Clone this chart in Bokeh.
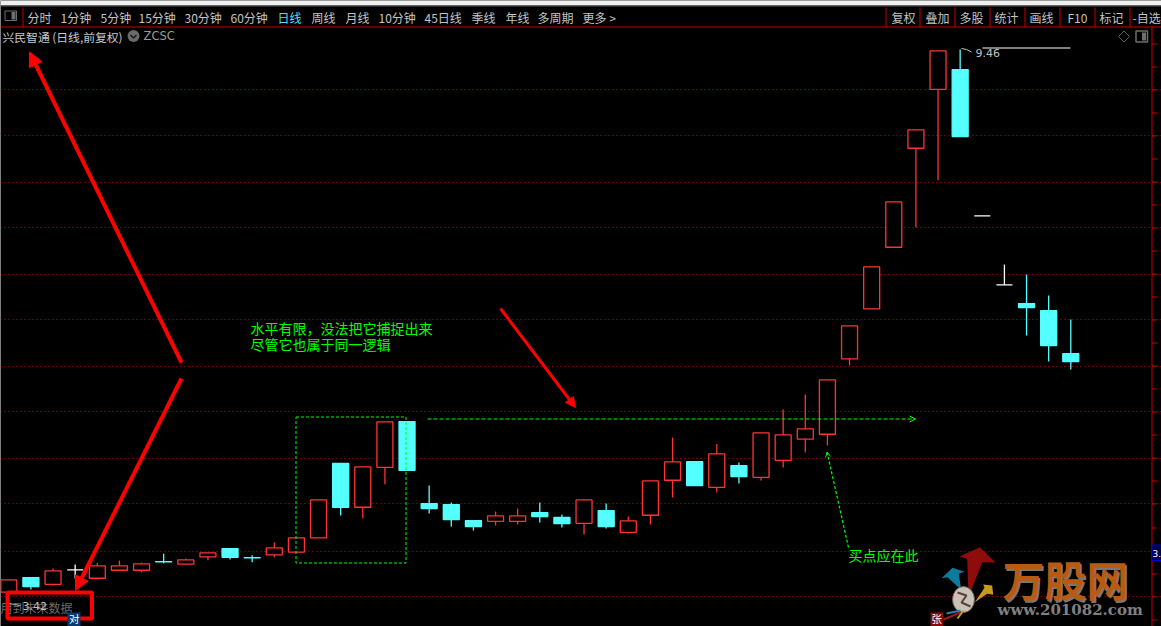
from bokeh.core.properties import value
from bokeh.embed import file_html
from bokeh.models import Arrow, ColumnDataSource, FixedTicker, Grid, NormalHead, OpenHead, Range1d
from bokeh.plotting import figure
from bokeh.resources import INLINE

# ---- candle data (prices) ----
opens = [3.43, 3.593, 3.518, 3.678, 3.585, 3.674, 3.674, 3.770, 3.741, 3.823, 3.915, 3.815, 3.845, 3.876, 4.034, 4.86, 4.374, 4.818, 5.326, 4.415, 4.404, 4.226, 4.218, 4.218, 4.315, 4.26, 4.196, 4.337, 4.096, 4.285, 4.674, 4.882, 4.596, 4.837, 4.707, 4.896, 5.13, 5.185, 6.023, 6.578, 7.263, 8.363, 9.018, 9.237, 7.612, 6.845, 6.637, 6.56, 6.082]
closes = [3.567, 3.493, 3.667, 3.678, 3.723, 3.723, 3.745, 3.767, 3.79, 3.867, 3.818, 3.812, 3.923, 4.034, 4.456, 4.374, 4.823, 5.323, 4.785, 4.36, 4.237, 4.16, 4.278, 4.278, 4.271, 4.193, 4.456, 4.16, 4.223, 4.667, 4.878, 4.615, 4.967, 4.715, 5.201, 5.178, 5.245, 5.79, 6.39, 7.045, 7.767, 8.567, 9.445, 8.493, 7.612, 6.845, 6.593, 6.171, 5.993]
highs = [3.567, 3.593, 3.693, 3.737, 3.756, 3.782, 3.76, 3.856, 3.804, 3.867, 3.915, 3.841, 3.982, 4.034, 4.456, 4.86, 4.823, 5.323, 5.326, 4.615, 4.426, 4.226, 4.326, 4.36, 4.426, 4.293, 4.456, 4.415, 4.271, 4.667, 5.148, 4.882, 5.078, 4.871, 5.201, 5.46, 5.626, 5.79, 6.39, 7.045, 7.767, 8.567, 9.445, 9.46, 7.612, 7.071, 6.96, 6.726, 6.46]
lows = [3.426, 3.46, 3.504, 3.582, 3.571, 3.671, 3.652, 3.752, 3.737, 3.785, 3.793, 3.763, 3.818, 3.876, 4.034, 4.282, 4.252, 4.63, 4.785, 4.304, 4.16, 4.115, 4.171, 4.182, 4.204, 4.148, 4.071, 4.137, 4.082, 4.182, 4.482, 4.615, 4.537, 4.637, 4.671, 4.815, 4.982, 5.06, 5.952, 6.578, 7.263, 7.485, 8.007, 8.493, 7.612, 6.845, 6.282, 5.993, 5.904]
grid_prices = [9.0105, 8.4994, 7.9882, 7.4771, 6.9659, 6.4548, 5.9436, 5.4325, 4.9213, 4.4102, 3.8879, 3.3768]
tick_prices = [9.5217, 9.2661, 9.0105, 8.755, 8.4994, 8.2438, 7.9882, 7.7327, 7.4771, 7.2215, 6.9659, 6.7104, 6.4548, 6.1992, 5.9436, 5.688, 5.4325, 5.1769, 4.9213, 4.6658, 4.4102, 4.1435, 3.8879, 3.6324, 3.3768, 3.1212]

# ---- texts ----
period_labels = ["分时", "1分钟", "5分钟", "15分钟", "30分钟", "60分钟", "日线", "周线", "月线", "10分钟", "45日线", "季线", "年线", "多周期", "更多 >"]
tool_labels = ["复权", "叠加", "多股", "统计", "画线", "F10", "标记", "-自选"]
note_lines = ["水平有限，没法把它捕捉出来", "尽管它也属于同一逻辑"]
buy_note = "买点应在此"

# layout in window pixels
period_x = [27, 60, 100, 138, 184, 230, 277, 311, 345, 378, 424, 471, 505, 537, 582]
tool_x = [891, 925, 959, 994, 1029, 1067, 1099, 1132]
sep_x = [22.5, 885.5, 919.5, 954.5, 989.5, 1024.5, 1059.5, 1094.5, 1129.5]

CJK = value("Noto Sans CJK SC")
RED = "#ff3333"
CYAN = "#54ffff"
DARKRED = "#c80000"
GREEN = "#00ff00"
ARROW = "#ff0000"
GREY = "#c4c4c4"

idx = list(range(len(opens)))
colors = [RED if c > o else (CYAN if c < o else "#ffffff") for o, c in zip(opens, closes)]
fills = ["#000000" if c > o else col for o, c, col in zip(opens, closes, colors)]
src = ColumnDataSource(dict(x=idx, o=opens, c=closes, h=highs, l=lows, col=colors, fill=fills))

p = figure(width=1161, height=626, output_backend="svg", toolbar_location=None,
           x_range=Range1d(-0.375, 52.10), y_range=Range1d(3.049, 10.005),
           x_axis_location=None, y_axis_location=None, min_border=0,
           background_fill_color="#000000", border_fill_color="#000000", outline_line_color=None)
p.grid.visible = False
p.extra_x_ranges = {"px": Range1d(0, 1161)}
p.extra_y_ranges = {"px": Range1d(626, 0)}
PX = dict(x_range_name="px", y_range_name="px")


def txt(x, y, s, color=GREY, size="12px", font=CJK, **kw):
    p.text([x], [y], text=[s], text_color=color, text_font_size=size, text_font=font,
           text_baseline="middle", **PX, **kw)


p.add_layout(Grid(dimension=1, ticker=FixedTicker(ticks=grid_prices), grid_line_color="#d80000",
                  grid_line_dash="1 3", grid_line_width=1))

# window strip above the chart
p.quad(left=[0], right=[1161], top=[0], bottom=[5], fill_color="#f0f0f0", line_color=None, **PX)
p.quad(left=[0], right=[1161], top=[5], bottom=[6], fill_color="#555555", line_color=None, **PX)

# candles
p.segment("x", "h", "x", "l", source=src, line_color="col", line_width=1.3)
p.vbar("x", 16 / 22.125, "o", "c", source=src, fill_color="fill", line_color="col", line_width=1.3)
# value-axis rule and ticks
p.segment([1151.5] * len(tick_prices), tick_prices, [1156.5] * len(tick_prices), tick_prices,
          x_range_name="px", line_color=DARKRED, line_width=1)
p.segment([1151.5], [626], [1151.5], [26.5], line_color=DARKRED, line_width=1, **PX)

# tool bar
p.segment([0], [26.5], [1161], [26.5], line_color=DARKRED, line_width=1, **PX)
p.segment(sep_x, [7] * len(sep_x), sep_x, [26.5] * len(sep_x), line_color=DARKRED, line_width=1, **PX)
p.quad(left=[4.5], right=[16], top=[10.5], bottom=[20], fill_color="#000000", line_color="#6e6e6e", line_width=1, **PX)
p.quad(left=[11], right=[15], top=[11.5], bottom=[19], fill_color="#6e6e6e", line_color=None, **PX)
for s, x in zip(period_labels, period_x):
    txt(x, 16.5, s, color="#55ddff" if s == "日线" else GREY)
for s, x in zip(tool_labels, tool_x):
    txt(x, 16.5, s)

# title row
txt(2, 35.5, "兴民智通 (日线,前复权)", size="11.8px", color="#c8c8c8")
p.circle([133], [35.5], radius=6, radius_units="screen", fill_color="#6a6a6a", line_color=None, **PX)
p.line([130, 133, 136], [34.5, 37.5, 34.5], line_color="#1a1a1a", line_width=1.5, **PX)
txt(143, 35.5, "ZCSC", color="#9a9a9a", size="11.5px", font=value("DejaVu Sans"))
p.line([1118, 1123.5, 1129, 1123.5, 1118], [36, 30.5, 36, 41.5, 36], line_color="#606060", line_width=1, **PX)
p.quad(left=[1135.5], right=[1147], top=[30.5], bottom=[41.5], fill_color="#000000", line_color="#6e6e6e", line_width=1.5, **PX)
p.quad(left=[1141.5], right=[1145.5], top=[32], bottom=[40], fill_color="#6e6e6e", line_color=None, **PX)

# high / low flags
p.segment([982], [47.5], [1070], [47.5], line_color="#ffffff", line_width=1, **PX)
p.line([961, 966, 971], [48, 49, 51.5], line_color="#c4c4c4", line_width=1, **PX)
txt(975, 52.5, "9.46", size="11px", color="#c0c0c0", font=value("DejaVu Sans"))
txt(0, 606.5, "用到未来数据", color="#6c6c6c")
p.line([8, 14, 20], [603, 604, 605], line_color="#b0b0b0", line_width=1, **PX)
txt(22, 605, "3.42", size="11px", color="#c0c0c0", font=value("DejaVu Sans"))

# hand-drawn markup
p.quad(left=[295.5], right=[405.5], top=[416.5], bottom=[562.5], fill_color=None,
       line_color=GREEN, line_width=1, line_dash="3 2", **PX)
p.add_layout(Arrow(end=OpenHead(size=6, line_color=GREEN, line_width=1), x_start=427, y_start=418.5, x_end=915, y_end=418.5,
                   line_color=GREEN, line_width=1, line_dash="4 2", x_range_name="px", y_range_name="px"))
p.add_layout(Arrow(end=OpenHead(size=5, line_color=GREEN, line_width=1), x_start=848, y_start=547, x_end=826.5, y_end=451.5,
                   line_color=GREEN, line_width=1.2, line_dash="3 2", x_range_name="px", y_range_name="px"))
for x0, y0, x1, y1, w, h in [(181, 362, 29, 51.5, 4, 14), (181, 378, 75, 590, 4, 14), (500, 308, 575, 407, 3, 10)]:
    p.add_layout(Arrow(end=NormalHead(size=h, fill_color=ARROW, line_color=ARROW, line_width=1),
                       x_start=x0, y_start=y0, x_end=x1, y_end=y1, line_color=ARROW, line_width=w,
                       x_range_name="px", y_range_name="px"))
p.quad(left=[7], right=[91.5], top=[592], bottom=[618], fill_color=None, line_color=ARROW, line_width=4, **PX)
txt(250, 327.5, note_lines[0], color=GREEN, size="14px")
txt(250, 343.5, note_lines[1], color=GREEN, size="14px")
txt(848, 554.5, buy_note, color=GREEN, size="14px")

# small tags and price tag
p.quad(left=[67], right=[80], top=[612], bottom=[626], fill_color="#0a3a6e", line_color=None, **PX)
txt(68.5, 618, "对", color="#ffffff", size="10.5px")
p.quad(left=[930], right=[942.5], top=[612], bottom=[625.5], fill_color="#8a0a0a", line_color=None, **PX)
txt(931, 618, "张", color="#ffffff", size="10.5px")
p.quad(left=[1151.5], right=[1161], top=[544.5], bottom=[560], fill_color="#000050", line_color="#0000d0", line_width=1, **PX)
txt(1152, 552.5, "3.", color="#ffffff", size="9px", font=value("DejaVu Sans"))

# watermark
p.patch([979.3, 995, 981.7, 970.7, 967.7, 966.7, 959], [546.7, 562, 561.7, 590, 586.7, 558.3, 556],
        fill_color="#8e0c0c", line_color=None, **PX)
p.patch([952, 964, 958.3, 960.7, 947, 941], [567.3, 571.3, 573.3, 589.3, 576.7, 577.7],
        fill_color="#0f7a9c", line_color=None, **PX)
p.patch([992.7, 991.7, 982.7, 984, 974.3, 986.7], [594.3, 585, 584, 587.3, 601.7, 593.3],
        fill_color="#c79a1c", line_color=None, **PX)
p.ellipse([963], [599], width=22, height=26, width_units="screen", height_units="screen",
          fill_color="#c9c2b8", line_color="#6a5a50", line_width=1, **PX)
p.line([957, 966, 961, 970], [592, 595, 602, 606], line_color="#5a4038", line_width=2, **PX)
p.segment([943, 946, 957], [619, 613, 618], [960, 960, 963], [612, 610, 610],
          line_color=["#a01818", "#2a80b0", "#c79a1c"], line_width=2, **PX)
txt(1003.5, 579.5, "万股网", color="#777777", size="42px", text_font_style="bold")
txt(1002, 578, "万股网", color="#b85a10", size="42px", text_font_style="bold")
txt(997, 609.5, "www.201082.com", color="#808080", size="15px", font=value("DejaVu Serif"), text_font_style="bold")

open("out.html", "w").write(file_html(p, INLINE))
